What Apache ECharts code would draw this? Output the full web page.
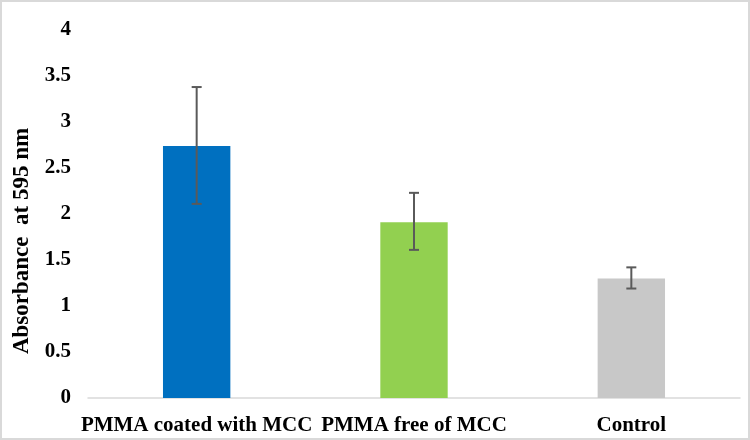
<!DOCTYPE html>
<html><head><meta charset="utf-8">
<script src="https://cdn.jsdelivr.net/npm/echarts@6/dist/echarts.min.js"></script>
<style>html,body{margin:0;padding:0;background:#fff}#c{width:750px;height:440px;box-sizing:border-box;border:2px solid #d9d9d9}</style>
</head><body><div id="c"></div>
<script>
var categories = ['PMMA coated with MCC', 'PMMA free of MCC', 'Control'];
var values = [2.74, 1.91, 1.30];
var errLow = [2.11, 1.61, 1.19];
var errHigh = [3.38, 2.23, 1.42];
var barColors = ['#0070C0', '#92D050', '#C8C8C8'];
var yTicks = { min: 0, max: 4, interval: 0.5 };
var yTitle = 'Absorbance  at 595 nm';

var chart = echarts.init(document.getElementById('c'));
var font = '"Liberation Serif", "Times New Roman", serif';
chart.setOption({
  animation: false,
  grid: { left: 86, right: 8, top: 28, bottom: 40 },
  graphic: [{
    type: 'text', x: 20, y: 239, rotation: Math.PI / 2,
    style: { text: yTitle, fill: '#000', font: 'bold 23px ' + font, align: 'center', verticalAlign: 'middle' }
  }],
  xAxis: {
    type: 'category', data: categories,
    axisLine: { lineStyle: { color: '#d9d9d9', width: 1.5 } },
    axisTick: { show: false },
    axisLabel: { color: '#000', fontFamily: font, fontWeight: 'bold', fontSize: 21, margin: 17, interval: 0, hideOverlap: false }
  },
  yAxis: {
    type: 'value', min: yTicks.min, max: yTicks.max, interval: yTicks.interval,
    axisLine: { show: false }, axisTick: { show: false }, splitLine: { show: false },
    axisLabel: { color: '#000', fontFamily: font, fontWeight: 'bold', fontSize: 21, margin: 17 }
  },
  series: [
    {
      type: 'bar', barWidth: '31%',
      data: values.map(function (v, i) { return { value: v, itemStyle: { color: barColors[i] } }; })
    },
    {
      type: 'custom', z: 10,
      data: categories.map(function (c, i) { return [i, errLow[i], errHigh[i]]; }),
      renderItem: function (params, api) {
        var x = api.value(0);
        var lo = api.coord([x, api.value(1)]);
        var hi = api.coord([x, api.value(2)]);
        var hw = 5;
        var style = { stroke: '#5a5a5a', lineWidth: 2 };
        return { type: 'group', children: [
          { type: 'line', shape: { x1: hi[0], y1: hi[1], x2: lo[0], y2: lo[1] }, style: style },
          { type: 'line', shape: { x1: hi[0] - hw, y1: hi[1], x2: hi[0] + hw, y2: hi[1] }, style: style },
          { type: 'line', shape: { x1: lo[0] - hw, y1: lo[1], x2: lo[0] + hw, y2: lo[1] }, style: style }
        ] };
      }
    }
  ]
});
</script></body></html>
